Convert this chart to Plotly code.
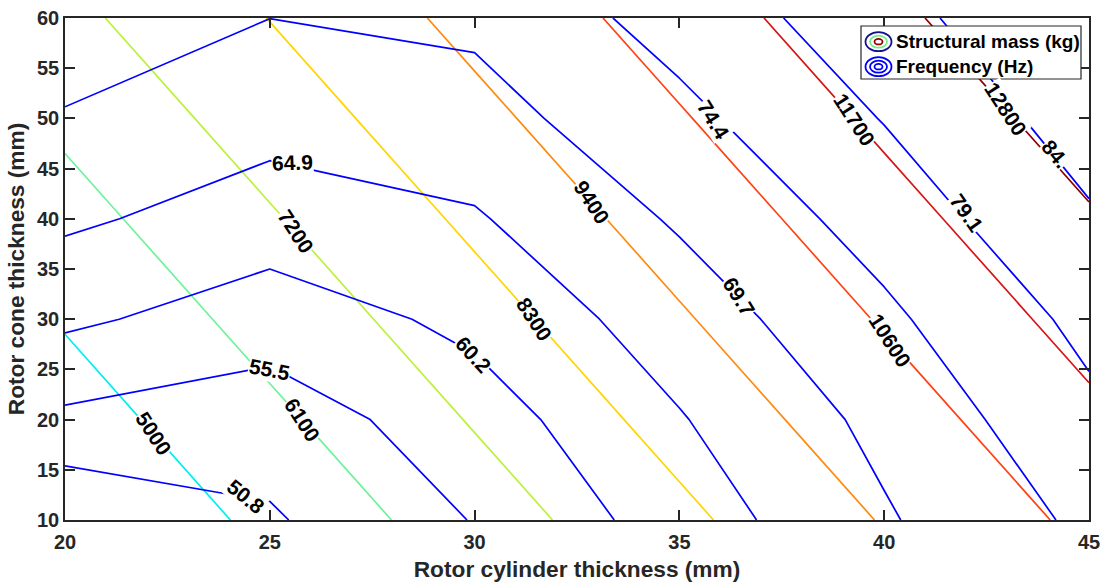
import numpy as np
import plotly.graph_objects as go

# Design grid (mm)
cylinder_mm = [20, 25, 30, 35, 40, 45]
cone_mm = [10, 20, 30, 40, 50, 60]

# Structural mass (kg), one row per cone thickness
mass_cone10 = [3870, 5269, 6668, 8067, 9466, 10865]
mass_cone20 = [4481, 5880, 7279, 8678, 10077, 11476]
mass_cone30 = [5092, 6491, 7890, 9289, 10688, 12087]
mass_cone40 = [5703, 7102, 8501, 9900, 11299, 12698]
mass_cone50 = [6314, 7713, 9112, 10511, 11910, 13309]
mass_cone60 = [6925, 8324, 9723, 11122, 12521, 13920]

# Natural frequency (Hz), one row per cone thickness
freq_cone10 = [46.4, 50.3, 55.7, 62.3, 69.2, 75.4]
freq_cone20 = [54.55, 53.0, 58.1, 64.6, 70.9, 78.0]
freq_cone30 = [61.1, 57.7, 61.3, 67.2, 73.5, 80.3]
freq_cone40 = [65.7, 62.7, 64.45, 70.25, 76.3, 83.45]
freq_cone50 = [69.4, 66.5, 67.9, 73.2, 79.3, 86.2]
freq_cone60 = [72.0, 69.72, 70.65, 76.2, 81.9, 89.6]

# Contour levels
mass_levels = [5000, 6100, 7200, 8300, 9400, 10600, 11700, 12800]
freq_labels = ["50.8", "55.5", "60.2", "64.9", "69.7", "74.4", "79.1", "84."]

mass = np.array([mass_cone10, mass_cone20, mass_cone30,
                 mass_cone40, mass_cone50, mass_cone60], dtype=float)
freq = np.array([freq_cone10, freq_cone20, freq_cone30,
                 freq_cone40, freq_cone50, freq_cone60], dtype=float)
freq_levels = [float(s) for s in freq_labels]

# Styling
mass_colors = ["#00EEEE", "#6EF29A", "#BDF03C", "#FFD500",
               "#FF8A10", "#FF4214", "#D81414", "#8E0000"]
freq_color = "#0000FF"
axis_color = "#262626"
FONT = "Liberation Sans, Arial, sans-serif"

# Label placement: cone thickness for mass labels (x found on the line),
# (x, y) for frequency labels, plus text rotation in degrees
mass_label_y = [18.6, 20.0, 38.7, 30.0, 41.6, 27.9, 49.9, 51.0]
mass_label_angle = 57
freq_label_pos = [(24.41, 12.3), (25.0, 25.0), (29.97, 26.5), (25.55, 45.6),
                  (36.46, 32.3), (35.83, 49.9), (42.0, 40.6), (44.17, 46.5)]
freq_label_angle = [39, 11, 47, -2, 58, 58, 55, 50]

fig = go.Figure()

for lev, col in zip(mass_levels, mass_colors):
    fig.add_trace(go.Contour(
        x=cylinder_mm, y=cone_mm, z=mass,
        contours=dict(start=lev, end=lev, size=1, coloring="none"),
        line=dict(color=col, width=1.7, smoothing=0),
        showscale=False, showlegend=False, hoverinfo="skip"))

for lev in freq_levels:
    fig.add_trace(go.Contour(
        x=cylinder_mm, y=cone_mm, z=freq,
        contours=dict(start=lev, end=lev, size=1, coloring="none"),
        line=dict(color=freq_color, width=1.7, smoothing=0),
        showscale=False, showlegend=False, hoverinfo="skip"))


def x_on_level(grid, level, y):
    """Cylinder thickness where a monotonic row of the grid reaches level at cone y."""
    row = [np.interp(y, cone_mm, grid[:, i]) for i in range(len(cylinder_mm))]
    return float(np.interp(level, row, cylinder_mm))


label_font = dict(family=FONT, size=21, color="black", weight="bold")
annotations = []
for lev, ly in zip(mass_levels, mass_label_y):
    annotations.append(dict(
        x=x_on_level(mass, lev, ly), y=ly, xref="x", yref="y",
        text=str(lev), textangle=mass_label_angle, showarrow=False,
        font=label_font, bgcolor="white", borderpad=0))
for txt, (lx, ly), ang in zip(freq_labels, freq_label_pos, freq_label_angle):
    annotations.append(dict(
        x=lx, y=ly, xref="x", yref="y", text=txt, textangle=ang,
        showarrow=False, font=label_font, bgcolor="white", borderpad=0))

# Hand-built legend with contour-style icons (pixel positions -> paper)
PL, PR, PT, PB = 65, 1089, 18, 520


def px(xp):
    return (xp - PL) / (PR - PL)


def py(yp):
    return (PB - yp) / (PB - PT)


shapes = [dict(type="rect", xref="paper", yref="paper",
               x0=px(861), x1=px(1081), y0=py(79), y1=py(26),
               fillcolor="white", line=dict(color=axis_color, width=1.2))]


def ellipse(cx, cy, w, h, color):
    return dict(type="circle", xref="paper", yref="paper",
                x0=px(cx - w / 2), x1=px(cx + w / 2),
                y0=py(cy + h / 2), y1=py(cy - h / 2),
                line=dict(color=color, width=1.8))


legend_rows = [("Structural mass (kg)", 41.7, ["#10108C", "#7CE98A", "#9A0000"]),
               ("Frequency (Hz)", 66.7, [freq_color, freq_color, freq_color])]
for text, cy, cols in legend_rows:
    shapes.append(ellipse(878.5, cy, 26, 19, cols[0]))
    shapes.append(ellipse(878.5, cy, 17, 12, cols[1]))
    shapes.append(ellipse(878.5, cy, 8, 5.5, cols[2]))
    annotations.append(dict(
        x=px(894), y=py(cy), xref="paper", yref="paper", text=text,
        xanchor="left", yanchor="middle", showarrow=False,
        font=dict(family=FONT, size=19, color="black", weight="bold")))

axis_common = dict(
    showgrid=False, zeroline=False, showline=True, linecolor=axis_color,
    linewidth=1.5, mirror="ticks", ticks="inside", ticklen=10,
    tickwidth=1.5, tickcolor=axis_color, automargin=False,
    tickfont=dict(family=FONT, size=20, color=axis_color, weight="bold"))

fig.update_layout(
    width=1110, height=587,
    margin=dict(l=PL, r=1110 - PR, t=PT, b=587 - PB),
    paper_bgcolor="white", plot_bgcolor="white",
    xaxis=dict(range=[20, 45], tickvals=[20, 25, 30, 35, 40, 45],
               ticklabelstandoff=3,
               title=dict(text="Rotor cylinder thickness (mm)", standoff=9,
                          font=dict(family=FONT, size=22.7, color=axis_color,
                                    weight="bold")),
               **axis_common),
    yaxis=dict(range=[10, 60], tickvals=list(range(10, 61, 5)),
               title=dict(text="Rotor cone thickness (mm)", standoff=6,
                          font=dict(family=FONT, size=22.7, color=axis_color,
                                    weight="bold")),
               **axis_common),
    shapes=shapes, annotations=annotations, showlegend=False)

fig.write_html("out.html")
